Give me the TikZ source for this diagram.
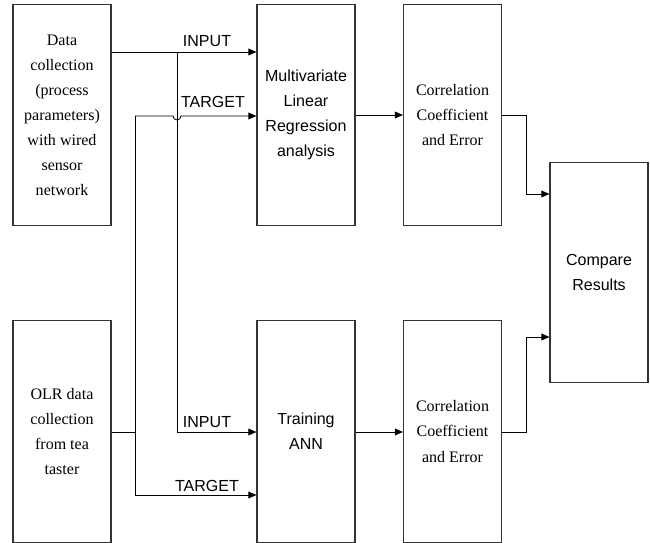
\documentclass[tikz,border=0pt]{standalone}
\usepackage{fontspec}
\setmainfont{Liberation Serif}
\setsansfont{Liberation Sans}
\usepackage{tikz}
\usetikzlibrary{arrows.meta}
\tikzstyle{block} = [rectangle, minimum width=2.45cm, minimum height=5.53cm, text centered, align=center, draw=black!80, line width=0.8pt, inner sep=0pt]
\tikzstyle{serifbox} = [block, font=\fontsize{11.4}{17.8}\selectfont\rmfamily]
\tikzstyle{sansbox} = [block, font=\fontsize{11.4}{17.8}\selectfont\sffamily]
\tikzstyle{arrow} = [line width=0.6pt, -{Triangle[length=2mm,width=1.7mm]}]
\tikzstyle{line} = [line width=0.6pt]
\tikzstyle{lbl} = [font=\fontsize{11.4}{13}\selectfont\sffamily, inner sep=0pt, anchor=base]

\begin{document}
\begin{tikzpicture}[x=0.025cm, y=-0.025cm]
   \useasboundingbox (0,0) rectangle (650,543);
   % boxes
   \node (data) [serifbox] at (62,115) {Data\\collection\\(process\\parameters)\\with wired\\sensor\\network};
   \node (mlr) [sansbox] at (306,115) {Multivariate\\Linear\\Regression\\analysis};
   \node (corr1) [serifbox] at (452.5,115) {Correlation\\Coefficient\\and Error};
   \node (olr) [serifbox] at (62,431.5) {OLR data\\collection\\from tea\\taster};
   \node (ann) [sansbox] at (306,431.5) {Training\\ANN};
   \node (corr2) [serifbox] at (452.5,431.5) {Correlation\\Coefficient\\and Error};
   \node (cmp) [sansbox, minimum height=5.52cm] at (599,272.5) {Compare\\Results};
   % junctions
   \coordinate (inj) at (177,52);
   \coordinate (tgj) at (135,432);
   % input lines
   \draw [arrow] (data.east |- inj) -- (mlr.west |- inj);
   \draw [arrow] (inj) |- (ann.west |- 0,432);
   % target lines
   \draw [line] (olr.east |- tgj) -- (tgj);
   \draw [arrow] (tgj |- 0,116) -- (173,116) arc (180:0:4) -- (mlr.west |- 0,116);
   \draw [arrow] (tgj |- 0,116) |- (ann.west |- 0,495);
   % labels
   \node (in1) [lbl] at (207,47) {INPUT};
   \node (tg1) [lbl] at (213,108) {TARGET};
   \node (in2) [lbl] at (207,427) {INPUT};
   \node (tg2) [lbl] at (207,491) {TARGET};
   % results
   \draw [arrow] (mlr.east |- 0,115) -- (corr1.west |- 0,115);
   \draw [arrow] (ann.east |- 0,432) -- (corr2.west |- 0,432);
   \draw [arrow] (corr1.east |- 0,115) -- (526,115) |- (cmp.west |- 0,194);
   \draw [arrow] (corr2.east |- 0,432) -- (526,432) |- (cmp.west |- 0,337);
\end{tikzpicture}
\end{document}
